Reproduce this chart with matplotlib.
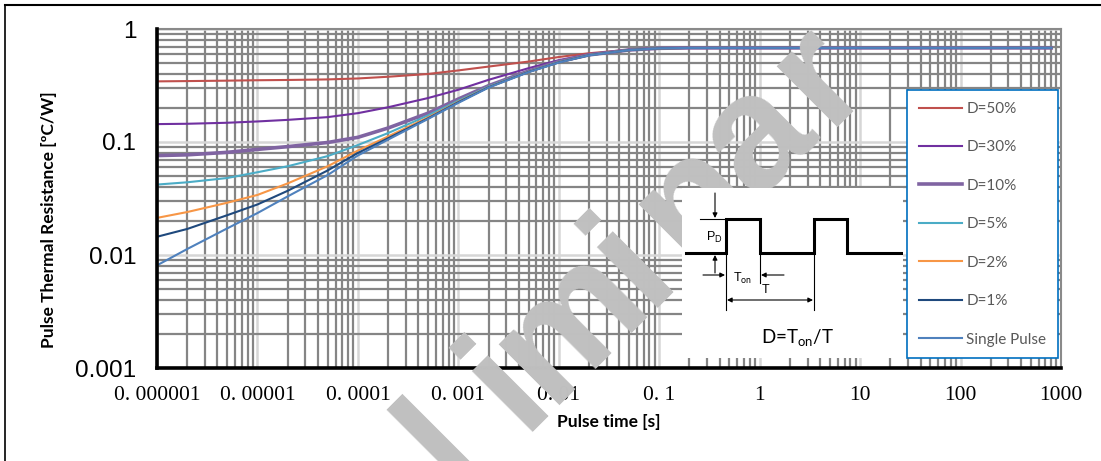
import matplotlib
matplotlib.use("Agg")
import matplotlib.pyplot as plt
import numpy as np
from matplotlib.lines import Line2D

plt.rcParams['mathtext.fontset'] = 'custom'
plt.rcParams['mathtext.rm'] = 'Lato'
plt.rcParams['mathtext.it'] = 'Lato:italic'

# pulse time [s]
t = [1e-6, 2e-6, 5e-6, 1e-5, 2e-5, 5e-5, 1e-4, 2e-4, 5e-4, 1e-3, 2e-3,
     5e-3, 1e-2, 2e-2, 5e-2, 1e-1, 2e-1, 1, 10, 100, 800]

# pulse thermal resistance [degC/W], one list per duty cycle
d50 = [0.344, 0.346, 0.349, 0.352, 0.354, 0.358, 0.365, 0.378, 0.400, 0.430,
       0.465, 0.515, 0.565, 0.610, 0.655, 0.675, 0.680, 0.680, 0.680, 0.680, 0.680]
d30 = [0.144, 0.145, 0.148, 0.152, 0.157, 0.166, 0.180, 0.203, 0.245, 0.290,
       0.355, 0.450, 0.530, 0.598, 0.655, 0.675, 0.680, 0.680, 0.680, 0.680, 0.680]
d10 = [0.0758, 0.077, 0.081, 0.086, 0.091, 0.099, 0.110, 0.133, 0.180, 0.240,
       0.315, 0.425, 0.515, 0.590, 0.652, 0.675, 0.680, 0.680, 0.680, 0.680, 0.680]
d05 = [0.042, 0.044, 0.048, 0.054, 0.061, 0.075, 0.094, 0.120, 0.172, 0.232,
       0.310, 0.420, 0.510, 0.588, 0.651, 0.675, 0.680, 0.680, 0.680, 0.680, 0.680]
d02 = [0.0213, 0.024, 0.029, 0.034, 0.043, 0.061, 0.084, 0.112, 0.165, 0.227,
       0.306, 0.418, 0.508, 0.587, 0.650, 0.675, 0.680, 0.680, 0.680, 0.680, 0.680]
d01 = [0.0145, 0.017, 0.0225, 0.028, 0.037, 0.056, 0.080, 0.108, 0.162, 0.225,
       0.305, 0.417, 0.507, 0.586, 0.650, 0.675, 0.680, 0.680, 0.680, 0.680, 0.680]
single = [0.0081, 0.0113, 0.0172, 0.0235, 0.033, 0.051, 0.076, 0.105, 0.160, 0.222,
          0.303, 0.415, 0.505, 0.585, 0.650, 0.675, 0.680, 0.680, 0.680, 0.680, 0.680]

series = [("D=50%", d50, '#C0504D', 1.5),
          ("D=30%", d30, '#7030A0', 1.5),
          ("D=10%", d10, '#8064A2', 2.6),
          ("D=5%", d05, '#4BACC6', 1.5),
          ("D=2%", d02, '#F79646', 1.5),
          ("D=1%", d01, '#1F497D', 1.5),
          ("Single Pulse", single, '#4F81BD', 1.5)]

xticks = [1e-6, 1e-5, 1e-4, 1e-3, 1e-2, 1e-1, 1, 10, 100, 1000]
xticklabels = ["0. 000001", "0. 00001", "0. 0001", "0. 001", "0. 01",
               "0. 1", "1", "10", "100", "1000"]
yticks = [0.001, 0.01, 0.1, 1]
yticklabels = ["0.001", "0.01", "0.1", "1"]

W, H = 1101, 461
fig = plt.figure(figsize=(W / 100, H / 100), dpi=100)
ax = fig.add_axes([157 / W, 1 - 368 / H, (1061 - 157) / W, (368 - 29) / H])

for label, vals, col, lw in series:
    ax.plot(t, vals, color=col, lw=lw, label=label, zorder=3)

ax.set_xscale('log')
ax.set_yscale('log')
ax.set_xlim(1e-6, 1000)
ax.set_ylim(0.001, 1)
ax.set_xticks(xticks)
ax.set_xticklabels(xticklabels, fontfamily='Liberation Serif', fontsize=15.5)
ax.set_yticks(yticks)
ax.set_yticklabels(yticklabels, fontfamily='Liberation Sans', fontsize=17.5)
ax.tick_params(which='both', length=0)
ax.tick_params(axis='y', pad=15)
ax.tick_params(axis='x', pad=13)

ax.set_axisbelow(True)
ax.grid(which='minor', color='#858585', lw=1.6)
ax.grid(which='major', color='#d6d6d6', lw=1.8)
for s in ['top', 'right']:
    ax.spines[s].set_color('#8a8a8a')
    ax.spines[s].set_linewidth(1.5)
for s in ['left', 'bottom']:
    ax.spines[s].set_color('black')
    ax.spines[s].set_linewidth(2.6)
    ax.spines[s].set_zorder(5)

ax.set_xlabel("Pulse time [s]", fontfamily='Lato', fontweight='bold', fontsize=12.5)
ax.set_ylabel("Pulse Thermal Resistance [ºC/W]", fontfamily='Lato',
              fontweight='bold', fontsize=12.5)
ax.xaxis.set_label_coords(0.5, -0.137)
ax.yaxis.set_label_coords(-0.111, 0.437)

# legend
leg = ax.legend(loc='upper left', bbox_to_anchor=(907 / W, 1 - 357 / H, 151 / W, 267 / H),
                bbox_transform=fig.transFigure, mode='expand', fancybox=False,
                framealpha=1, edgecolor='#0070C0', labelcolor='#595959',
                prop={'family': 'Lato', 'size': 11}, borderpad=0.78,
                labelspacing=1.6, handlelength=2.8, handletextpad=0.3,
                borderaxespad=0)
leg.get_frame().set_linewidth(1.2)
leg.set_zorder(6)

# watermark: spaced letters along a 45 degree line (pixel layout)
wm = "Preliminar"
cx, cy, step = 508, 386, 88          # centre of the first "i" and letter pitch
for k, ch in enumerate(wm):
    off = (k - 4) * step
    px = cx + off * np.cos(np.radians(45))
    py = cy - off * np.sin(np.radians(45))
    fig.text(px / W, 1 - py / H, ch, rotation=45, fontsize=118,
             fontfamily='Liberation Sans', fontweight='bold', color='#c0c0c0',
             ha='center', va='center', rotation_mode='anchor', zorder=0.5)

# pulse sketch inset (pixel coordinates)
ins = fig.add_axes([682 / W, 1 - 358 / H, 221 / W, 170 / H])
ins.set_zorder(1)
ins.set_xlim(682, 903)
ins.set_ylim(358, 188)
ins.axis('off')
ins.add_patch(plt.Rectangle((682, 188), 221, 170, color='white', zorder=0))
ins.plot([686, 726, 726, 760, 760, 814, 814, 847, 847, 901],
         [253, 253, 219, 219, 253, 253, 219, 219, 253, 253],
         color='black', lw=2.2, solid_joinstyle='miter')
thin = dict(color='black', lw=0.8)
ins.plot([700, 726], [219, 219], **thin)
ins.plot([726, 726], [253, 310], **thin)
ins.plot([760, 760], [253, 283], **thin)
ins.plot([814, 814], [253, 310], **thin)
arr = dict(arrowstyle='-|>', color='black', lw=0.8, mutation_scale=7,
           shrinkA=0, shrinkB=0)
ins.annotate('', xy=(715, 218), xytext=(715, 193), arrowprops=arr)
ins.annotate('', xy=(715, 255), xytext=(715, 273), arrowprops=arr)
ins.annotate('', xy=(725, 275), xytext=(703, 275), arrowprops=arr)
ins.annotate('', xy=(761, 275), xytext=(784, 275), arrowprops=arr)
ins.annotate('', xy=(813, 300), xytext=(727, 300),
             arrowprops=dict(arrowstyle='<|-|>', color='black', lw=0.8,
                             mutation_scale=7, shrinkA=0, shrinkB=0))
ins.text(714, 237, r"P$_\mathrm{D}$", fontfamily='Liberation Sans', fontsize=9,
         ha='center', va='center')
ins.text(743, 278, r"T$_\mathrm{on}$", fontfamily='Liberation Sans', fontsize=9,
         ha='center', va='center')
ins.text(766, 290, "T", fontfamily='Liberation Sans', fontsize=9,
         ha='center', va='center')
ins.text(797, 338, r"D=T$_\mathrm{on}$/T", fontfamily='Lato', fontsize=13.5,
         ha='center', va='center')

# page frame
fig.add_artist(Line2D([5 / W, 1], [1 - 5 / H, 1 - 5 / H], color='black', lw=1.5))
fig.add_artist(Line2D([5 / W, 5 / W], [0, 1 - 5 / H], color='black', lw=1.2))

fig.savefig("out.png", dpi=100)
